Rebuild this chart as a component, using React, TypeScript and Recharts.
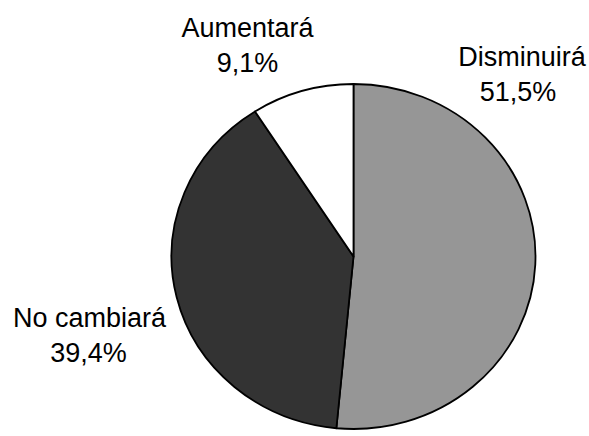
import React from "react";
import { PieChart, Pie, Cell } from "recharts";

const categories = ["Disminuirá", "No cambiará", "Aumentará"];
const values = [51.5, 39.4, 9.1];
const valueLabels = ["51,5%", "39,4%", "9,1%"];
const colors = ["#969696", "#333333", "#ffffff"];

const data = categories.map((name, i) => ({ name, value: values[i], text: valueLabels[i] }));

// label anchor positions (layout, in chart pixels)
const labelPos = [
  { x1: 522, x2: 518, y: 66 },
  { x1: 89.5, x2: 88.5, y: 327.3 },
  { x1: 247.5, x2: 247.5, y: 37 },
];

const RX = 182;
const RY = 172.5;
const RAD = Math.PI / 180;

const EllipseSector = (props: any) => {
  const { cx, cy, startAngle, endAngle, fill } = props;
  const p = (a: number) => [cx + RX * Math.cos(-a * RAD), cy + RY * Math.sin(-a * RAD)];
  const [x1, y1] = p(startAngle);
  const [x2, y2] = p(endAngle);
  const large = Math.abs(endAngle - startAngle) > 180 ? 1 : 0;
  const sweep = startAngle > endAngle ? 1 : 0;
  const d = `M ${cx},${cy} L ${x1},${y1} A ${RX} ${RY} 0 ${large} ${sweep} ${x2},${y2} Z`;
  return <path d={d} fill={fill} stroke="#000" strokeWidth={1.8} strokeLinejoin="round" />;
};

const renderLabel = (props: any) => {
  const { index, payload } = props;
  const pos = labelPos[index];
  const item = payload && payload.payload ? payload.payload : payload;
  return (
    <text
      fontFamily="'Liberation Sans', Arial, sans-serif"
      fontSize={27}
      fill="#000"
      textAnchor="middle"
    >
      <tspan x={pos.x1} y={pos.y}>{categories[index]}</tspan>
      <tspan x={pos.x2} y={pos.y + 35}>{valueLabels[index]}</tspan>
    </text>
  );
};

export default function App() {
  return (
    <div style={{ position: "absolute", left: 0, top: 0, width: 589, height: 436, background: "#fff" }}>
      <PieChart width={589} height={436} margin={{ top: 0, right: 0, bottom: 0, left: 0 }}>
        <Pie
          data={data}
          dataKey="value"
          nameKey="name"
          cx={353.5}
          cy={256.5}
          outerRadius={RX}
          startAngle={90}
          endAngle={-270}
          isAnimationActive={false}
          shape={EllipseSector}
          label={renderLabel}
          labelLine={false}
          stroke="#000"
        >
          {data.map((d, i) => (
            <Cell key={d.name} fill={colors[i]} />
          ))}
        </Pie>
      </PieChart>
    </div>
  );
}
